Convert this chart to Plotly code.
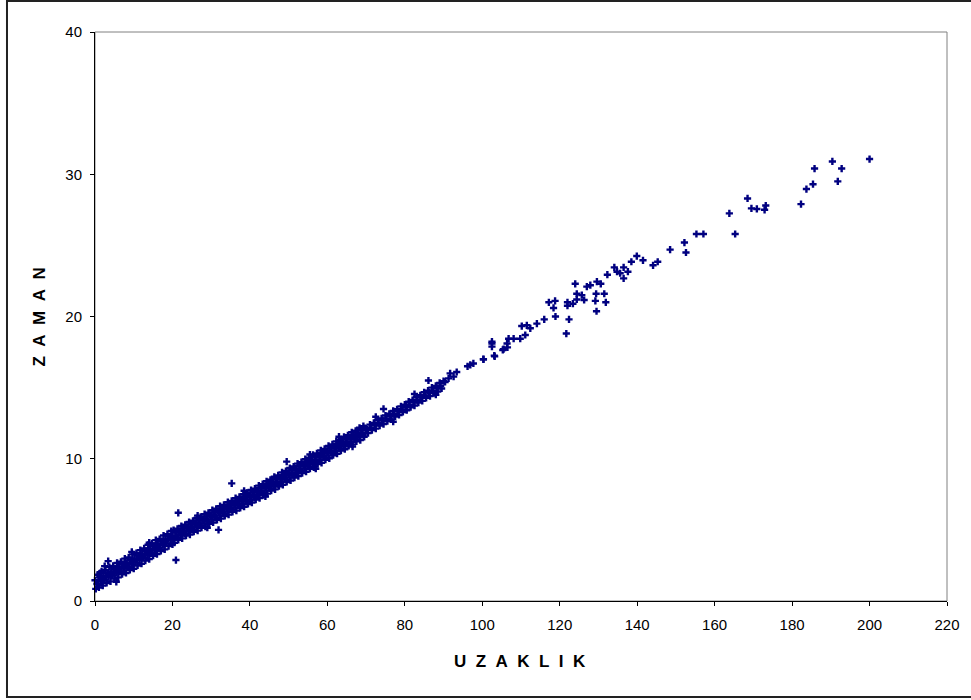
import plotly.graph_objects as go

# Measured travel: distance (UZAKLIK) vs time (ZAMAN)
# Dense band, lower edge
band_lo_x = [0.2, 1.0, 2.0, 3.0, 4.0, 5.0, 6.0, 7.0, 8.0, 9.0, 10.0, 11.0, 12.0, 13.0, 14.0, 15.0, 16.0, 17.0, 18.0, 19.0, 20.0,
             20.5, 21.5, 22.5, 23.5, 24.5, 25.5, 26.5, 27.5, 28.5, 29.5, 30.5, 31.5, 32.5, 33.5, 34.5, 35.5, 36.5, 37.5, 38.5, 39.5,
             40.5, 41.5, 42.5, 43.5, 44.5, 45.5, 46.5, 47.5, 48.5, 49.5, 50.5, 51.5, 52.5, 53.5, 54.5, 55.5, 56.5, 57.5, 58.5, 59.5,
             60.5, 61.5, 62.5, 63.5, 64.5, 65.5, 66.5, 67.5, 68.5, 69.5,
             70.5, 71.5, 72.5, 73.5, 74.5, 75.5, 76.5, 77.5, 78.5, 79.5, 80.5, 81.5, 82.5, 83.5, 84.5, 85.5, 86.5, 87.5, 88.5, 89.5]
band_lo_y = [0.85, 0.95, 1.08, 1.27, 1.38, 1.57, 1.66, 1.88, 1.97, 2.18, 2.27, 2.50, 2.62, 2.84, 2.95, 3.18, 3.30, 3.52, 3.63, 3.86, 3.98,
             4.10, 4.30, 4.40, 4.60, 4.67, 4.87, 4.95, 5.15, 5.23, 5.42, 5.52, 5.70, 5.79, 5.98, 6.07, 6.27, 6.35, 6.54, 6.63, 6.82,
             6.92, 7.13, 7.23, 7.44, 7.55, 7.76, 7.85, 8.07, 8.16, 8.37, 8.47, 8.68, 8.78, 8.99, 9.09, 9.30, 9.40, 9.62, 9.71, 9.93,
             10.03, 10.25, 10.35, 10.57, 10.67, 10.90, 11.00, 11.22, 11.31, 11.54,
             11.80, 12.01, 12.12, 12.33, 12.44, 12.65, 12.76, 12.97, 13.08, 13.29, 13.41, 13.62, 13.74, 13.95, 14.07, 14.28, 14.40, 14.61, 14.73, 14.94]

# Dense band, between lower edge and middle
band_lo2_x = [0.5, 1.5, 2.5, 3.5, 4.5, 5.5, 6.5, 7.5, 8.5, 9.5, 10.5, 11.5, 12.5, 13.5, 14.5, 15.5, 16.5, 17.5, 18.5, 19.5,
              20.25, 21.25, 22.25, 23.25, 24.25, 25.25, 26.25, 27.25, 28.25, 29.25, 30.25, 31.25, 32.25, 33.25, 34.25, 35.25,
              36.25, 37.25, 38.25, 39.25, 40.25, 41.25, 42.25, 43.25, 44.25, 45.25, 46.25, 47.25, 48.25, 49.25, 50.25, 51.25,
              52.25, 53.25, 54.25, 55.25, 56.25, 57.25, 58.25, 59.25, 60.25, 61.25, 62.25, 63.25, 64.25, 65.25, 66.25, 67.25,
              68.25, 69.25]
band_lo2_y = [1.20, 1.38, 1.49, 1.68, 1.79, 1.97, 2.08, 2.28, 2.38, 2.57, 2.70, 2.90, 3.03, 3.24, 3.37, 3.58, 3.71, 3.92, 4.05, 4.26,
              4.34, 4.47, 4.62, 4.75, 4.90, 5.03, 5.18, 5.31, 5.46, 5.59, 5.74, 5.87, 6.02, 6.15, 6.30, 6.43,
              6.58, 6.71, 6.86, 6.99, 7.14, 7.29, 7.45, 7.60, 7.76, 7.91, 8.07, 8.22, 8.38, 8.53, 8.69, 8.84,
              9.00, 9.15, 9.31, 9.46, 9.62, 9.77, 9.93, 10.08, 10.24, 10.40, 10.56, 10.72, 10.88, 11.04, 11.20, 11.36,
              11.52, 11.68]

# Dense band, middle
band_mid_x = [0.9, 1.9, 2.9, 3.9, 4.9, 5.9, 6.9, 7.9, 8.9, 9.9, 10.9, 11.9, 12.9, 13.9, 14.9, 15.9, 16.9, 17.9, 18.9, 19.9,
              20.0, 21.0, 22.0, 23.0, 24.0, 25.0, 26.0, 27.0, 28.0, 29.0, 30.0, 31.0, 32.0, 33.0, 34.0, 35.0, 36.0, 37.0, 38.0, 39.0,
              40.0, 41.0, 42.0, 43.0, 44.0, 45.0, 46.0, 47.0, 48.0, 49.0, 50.0, 51.0, 52.0, 53.0, 54.0, 55.0, 56.0, 57.0, 58.0, 59.0,
              60.0, 61.0, 62.0, 63.0, 64.0, 65.0, 66.0, 67.0, 68.0, 69.0, 70.0,
              70.25, 71.25, 72.25, 73.25, 74.25, 75.25, 76.25, 77.25, 78.25, 79.25, 80.25, 81.25, 82.25, 83.25, 84.25,
              85.25, 86.25, 87.25, 88.25, 89.25]
band_mid_y = [1.45, 1.55, 1.76, 1.86, 2.07, 2.16, 2.37, 2.45, 2.68, 2.75, 2.99, 3.08, 3.33, 3.42, 3.68, 3.76, 4.01, 4.10, 4.35, 4.45,
              4.55, 4.60, 4.82, 4.88, 5.10, 5.16, 5.38, 5.45, 5.66, 5.72, 5.94, 6.00, 6.22, 6.28, 6.50, 6.56, 6.78, 6.84, 7.06, 7.12,
              7.34, 7.42, 7.65, 7.73, 7.96, 8.04, 8.27, 8.35, 8.58, 8.66, 8.89, 8.97, 9.20, 9.28, 9.51, 9.59, 9.82, 9.90, 10.13, 10.21,
              10.44, 10.52, 10.76, 10.84, 11.08, 11.16, 11.40, 11.48, 11.72, 11.80, 12.03,
              12.06, 12.18, 12.38, 12.50, 12.70, 12.82, 13.02, 13.14, 13.34, 13.46, 13.66, 13.79, 13.99, 14.12, 14.32,
              14.45, 14.65, 14.78, 14.98, 15.11]

# Dense band, between middle and upper edge
band_hi2_x = [0.0, 1.2, 2.2, 3.2, 4.2, 5.2, 6.2, 7.2, 8.2, 9.2, 10.2, 11.2, 12.2, 13.2, 14.2, 15.2, 16.2, 17.2, 18.2, 19.2,
              20.75, 21.75, 22.75, 23.75, 24.75, 25.75, 26.75, 27.75, 28.75, 29.75, 30.75, 31.75, 32.75, 33.75, 34.75, 35.75,
              36.75, 37.75, 38.75, 39.75, 40.75, 41.75, 42.75, 43.75, 44.75, 45.75, 46.75, 47.75, 48.75, 49.75, 50.75, 51.75,
              52.75, 53.75, 54.75, 55.75, 56.75, 57.75, 58.75, 59.75, 60.75, 61.75, 62.75, 63.75, 64.75, 65.75, 66.75, 67.75,
              68.75, 69.75]
band_hi2_y = [1.46, 1.66, 1.78, 1.97, 2.08, 2.27, 2.38, 2.57, 2.68, 2.87, 2.98, 3.19, 3.32, 3.53, 3.66, 3.87, 3.99, 4.21, 4.33, 4.55,
              4.81, 4.94, 5.09, 5.22, 5.37, 5.50, 5.65, 5.78, 5.93, 6.06, 6.21, 6.34, 6.49, 6.62, 6.77, 6.90,
              7.05, 7.18, 7.33, 7.46, 7.62, 7.77, 7.93, 8.08, 8.24, 8.39, 8.55, 8.70, 8.86, 9.01, 9.17, 9.32,
              9.48, 9.63, 9.79, 9.94, 10.10, 10.25, 10.41, 10.56, 10.72, 10.88, 11.04, 11.20, 11.36, 11.52, 11.68, 11.84,
              12.00, 12.16]

# Dense band, upper edge
band_hi_x = [0.7, 1.7, 2.7, 3.7, 4.7, 5.7, 6.7, 7.7, 8.7, 9.7, 10.7, 11.7, 12.7, 13.7, 14.7, 15.7, 16.7, 17.7, 18.7, 19.7,
             20.3, 21.3, 22.3, 23.3, 24.3, 25.3, 26.3, 27.3, 28.3, 29.3, 30.3, 31.3, 32.3, 33.3, 34.3, 35.3, 36.3, 37.3, 38.3, 39.3,
             40.3, 41.3, 42.3, 43.3, 44.3, 45.3, 46.3, 47.3, 48.3, 49.3, 50.3, 51.3, 52.3, 53.3, 54.3, 55.3, 56.3, 57.3, 58.3, 59.3,
             60.3, 61.3, 62.3, 63.3, 64.3, 65.3, 66.3, 67.3, 68.3, 69.3,
             71.0, 72.0, 73.0, 74.0, 75.0, 76.0, 77.0, 78.0, 79.0, 80.0, 81.0, 82.0, 83.0, 84.0, 85.0, 86.0, 87.0, 88.0, 89.0, 90.0]
band_hi_y = [1.85, 2.08, 2.16, 2.38, 2.47, 2.68, 2.76, 2.98, 3.07, 3.28, 3.36, 3.57, 3.70, 3.95, 4.05, 4.28, 4.36, 4.60, 4.70, 4.92,
             4.99, 5.08, 5.27, 5.36, 5.55, 5.64, 5.83, 5.92, 6.11, 6.20, 6.39, 6.48, 6.67, 6.76, 6.95, 7.04, 7.23, 7.32, 7.51, 7.60,
             7.80, 7.90, 8.11, 8.21, 8.42, 8.52, 8.73, 8.83, 9.04, 9.14, 9.35, 9.45, 9.66, 9.76, 9.97, 10.07, 10.28, 10.38, 10.59, 10.69,
             10.90, 11.01, 11.22, 11.33, 11.54, 11.65, 11.86, 11.97, 12.18, 12.29,
             12.40, 12.52, 12.72, 12.84, 13.04, 13.16, 13.36, 13.48, 13.68, 13.80, 14.01, 14.13, 14.34, 14.46, 14.67, 14.79, 15.00, 15.12, 15.33, 15.45]

# Readings on the ragged edges of the band
edge_x = [2.5, 5.5, 9.5, 14.0, 26.5, 29.0, 38.5, 44.0, 55.5, 57.0, 63.0, 66.5, 72.5, 77.0, 82.5, 88.0]
edge_y = [2.45, 1.35, 3.45, 4.10, 6.00, 5.15, 7.75, 7.35, 10.30, 9.30, 11.55, 10.85, 12.95, 12.60, 14.55, 14.50]

# Isolated readings off the band
stray_x = [1.3, 3.4, 21.5, 20.9, 31.9, 35.3, 49.5, 74.5, 86.1]
stray_y = [1.97, 2.8, 6.2, 2.88, 5.0, 8.27, 9.8, 13.5, 15.5]

# Sparse readings at longer distances
far_x = [90.4, 91.3, 92.6, 91.7, 93.4, 96.2, 96.9, 97.7, 100.3, 103.1, 105.5, 102.5,
         100.3, 103.2, 102.5, 102.5, 105.3, 106.5, 106.4, 106.8, 108.1, 109.8, 111.1, 110.2, 111.5, 112.4, 114.1, 116.0,
         117.2, 118.8, 118.4, 118.9, 121.7, 122.4, 122.0, 123.4, 122.0, 124.0, 124.4, 124.4, 125.7, 126.3, 127.0, 127.9,
         129.6, 130.6, 129.4, 131.5, 129.2, 131.9, 129.5, 132.3, 134.1, 134.8, 135.6, 136.5, 137.6, 136.5, 138.5, 139.9,
         141.5, 144.1, 145.3, 148.5, 152.2, 152.6, 155.3, 157.1, 163.8, 165.3, 168.5, 169.5, 170.9, 173.2, 172.9,
         182.3, 183.7, 185.4, 185.8, 190.4, 191.8, 192.8, 200.0]
far_y = [15.4, 15.65, 15.77, 16.0, 16.1, 16.5, 16.6, 16.7, 17.0, 17.25, 17.7, 18.1,
         16.99, 17.2, 17.88, 18.23, 17.65, 17.83, 18.1, 18.44, 18.44, 18.44, 18.7, 19.33, 19.38, 19.17, 19.5, 19.8,
         21.0, 21.1, 20.6, 20.0, 18.8, 19.8, 20.76, 20.9, 21.0, 22.3, 21.6, 21.2, 21.5, 21.16, 22.1, 22.2,
         22.45, 22.3, 21.6, 21.6, 21.1, 21.0, 20.37, 22.94, 23.45, 23.15, 23.04, 23.45, 23.15, 22.68, 23.85, 24.25,
         23.95, 23.6, 23.85, 24.7, 25.2, 24.5, 25.8, 25.8, 27.25, 25.8, 28.3, 27.6, 27.56, 27.8, 27.5,
         27.9, 28.96, 29.3, 30.4, 30.9, 29.5, 30.4, 31.07]

x_ticks = [0, 20, 40, 60, 80, 100, 120, 140, 160, 180, 200, 220]
y_ticks = [0, 10, 20, 30, 40]

xs = band_lo_x + band_lo2_x + band_mid_x + band_hi2_x + band_hi_x + edge_x + stray_x + far_x
ys = band_lo_y + band_lo2_y + band_mid_y + band_hi2_y + band_hi_y + edge_y + stray_y + far_y

NAVY = "#000080"
FONT = "Liberation Sans, Arial, sans-serif"

fig = go.Figure(
    go.Scatter(
        x=xs, y=ys, mode="markers", cliponaxis=False,
        marker=dict(symbol="cross", size=6, color=NAVY, line=dict(width=0)),
        hoverinfo="x+y", showlegend=False,
    )
)

axis_common = dict(
    showgrid=False, zeroline=False, showline=True, linecolor="black", linewidth=1,
    ticks="outside", ticklen=4, tickcolor="black", tickwidth=1,
    tickfont=dict(family=FONT, size=15, color="black"),
)
fig.update_xaxes(range=[0, 220], tickvals=x_ticks, ticktext=[str(v) for v in x_ticks],
                 ticklabelstandoff=6, **axis_common)
fig.update_yaxes(range=[0, 40], tickvals=y_ticks, ticktext=[str(v) for v in y_ticks],
                 ticklabelstandoff=5, **axis_common)

sp = "\u00a0\u00a0"
fig.update_layout(
    width=971, height=700,
    margin=dict(l=95, r=24, t=32, b=99, autoexpand=False),
    paper_bgcolor="white", plot_bgcolor="white",
    shapes=[
        # plot-area frame
        dict(type="rect", xref="paper", yref="paper", x0=0, y0=0, x1=1, y1=1,
             line=dict(color="#808080", width=1), layer="below"),
        # outer chart frame
        dict(type="rect", xref="paper", yref="paper", x0=-0.1033, y0=-0.1687, x1=1.06, y1=1.0545,
             line=dict(color="#222222", width=2)),
    ],
    annotations=[
        dict(text=sp.join("UZAKLIK"), xref="paper", yref="paper", x=0.4988, y=-0.1072,
             showarrow=False, xanchor="center", yanchor="middle",
             font=dict(family=FONT, size=17, color="black", weight="bold")),
        dict(text=sp.join("ZAMAN"), xref="paper", yref="paper", x=-0.0646, y=0.5,
             showarrow=False, xanchor="center", yanchor="middle", textangle=-90,
             font=dict(family=FONT, size=17, color="black", weight="bold")),
    ],
)

fig.write_html("out.html")
